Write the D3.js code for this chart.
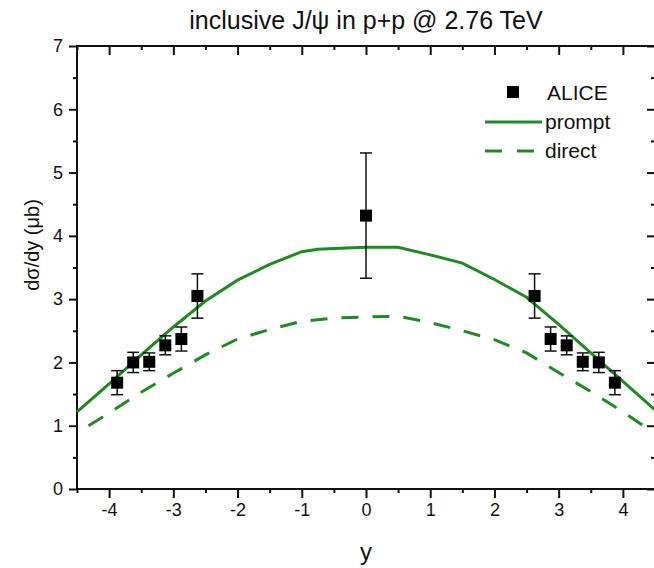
<!DOCTYPE html>
<html>
<head>
<meta charset="utf-8">
<script src="https://cdn.jsdelivr.net/npm/d3@7"></script>
<style>
    body { margin: 0; background: #fff; }
    svg { display: block; font-family: "Liberation Sans", Arial, sans-serif; }
</style>
</head>
<body>
<div id="chart"></div>
<script>
// ---------------------------------------------------------------------------
// Data
// ---------------------------------------------------------------------------

// ALICE inclusive J/psi points
const aliceY   = [-3.875, -3.625, -3.375, -3.125, -2.875, -2.625, 0, 2.625, 2.875, 3.125, 3.375, 3.625, 3.875];
const aliceVal = [1.68, 2.0, 2.01, 2.27, 2.37, 3.05, 4.32, 3.05, 2.37, 2.27, 2.01, 2.0, 1.68];
const aliceErr = [0.19, 0.16, 0.14, 0.15, 0.19, 0.35, 0.99, 0.35, 0.19, 0.15, 0.14, 0.16, 0.19];

// model curves
const promptY   = [-4.5, -4, -3.5, -3, -2.5, -2, -1.5, -1, -0.75, -0.5, 0, 0.5, 1, 1.5, 2, 2.5, 3, 3.5, 4, 4.5];
const promptVal = [1.22, 1.66, 2.12, 2.56, 2.97, 3.30, 3.55, 3.75, 3.79, 3.80, 3.82, 3.82, 3.70, 3.57, 3.31, 3.03, 2.60, 2.15, 1.70, 1.25];

const directY   = [-4.32, -4, -3.5, -3, -2.5, -2, -1.5, -1, -0.5, 0, 0.5, 1, 1.5, 2, 2.5, 3, 3.5, 4, 4.32];
const directVal = [1.0, 1.2, 1.53, 1.83, 2.12, 2.37, 2.52, 2.65, 2.70, 2.72, 2.73, 2.63, 2.50, 2.36, 2.15, 1.84, 1.54, 1.22, 1.0];

const xMajor = [-4, -3, -2, -1, 0, 1, 2, 3, 4];
const xMinor = [-4.5, -3.5, -2.5, -1.5, -0.5, 0.5, 1.5, 2.5, 3.5, 4.5];
const yMajor = [0, 1, 2, 3, 4, 5, 6, 7];
const yMinor = [0.5, 1.5, 2.5, 3.5, 4.5, 5.5, 6.5];

// ---------------------------------------------------------------------------
// Layout
// ---------------------------------------------------------------------------

const width = 654, height = 568;
const plotL = 77, plotR = 655, plotT = 46, plotB = 489;
const green = "#1f8a22";

const svg = d3.select("#chart").append("svg")
    .attr("width", width)
    .attr("height", height);

const x = d3.scaleLinear().domain([-4.5, 4.5]).range([plotL, plotR]);
const y = d3.scaleLinear().domain([0, 7]).range([plotB, plotT]);

// ---------------------------------------------------------------------------
// Axes
// ---------------------------------------------------------------------------

function styleAxis(g) {
    g.select(".domain").remove();
    g.selectAll(".tick line").attr("stroke", "#111").attr("stroke-width", 2);
    g.selectAll(".tick text").attr("fill", "#111").attr("font-size", "18px")
        .attr("font-family", "'Liberation Sans', Arial, sans-serif");
}

const plain = d => String(d);   // hyphen minus, like the original

// bottom
svg.append("g").attr("transform", `translate(0,${plotB})`)
    .call(d3.axisBottom(x).tickValues(xMajor).tickSize(9).tickPadding(5).tickFormat(plain))
    .call(styleAxis);
svg.append("g").attr("transform", `translate(0,${plotB})`)
    .call(d3.axisBottom(x).tickValues(xMinor).tickSize(4).tickFormat(""))
    .call(styleAxis);

// top (ticks inward)
svg.append("g").attr("transform", `translate(0,${plotT})`)
    .call(d3.axisBottom(x).tickValues(xMajor).tickSize(9).tickFormat(""))
    .call(styleAxis);
svg.append("g").attr("transform", `translate(0,${plotT})`)
    .call(d3.axisBottom(x).tickValues(xMinor).tickSize(4).tickFormat(""))
    .call(styleAxis);

// left
svg.append("g").attr("transform", `translate(${plotL},0)`)
    .call(d3.axisLeft(y).tickValues(yMajor).tickSize(8).tickPadding(6).tickFormat(plain))
    .call(styleAxis);
svg.append("g").attr("transform", `translate(${plotL},0)`)
    .call(d3.axisLeft(y).tickValues(yMinor).tickSize(4).tickFormat(""))
    .call(styleAxis);

// right (ticks inward)
svg.append("g").attr("transform", `translate(${plotR},0)`)
    .call(d3.axisLeft(y).tickValues(yMajor).tickSize(8).tickFormat(""))
    .call(styleAxis);
svg.append("g").attr("transform", `translate(${plotR},0)`)
    .call(d3.axisLeft(y).tickValues(yMinor).tickSize(4).tickFormat(""))
    .call(styleAxis);

// frame
svg.append("rect")
    .attr("x", plotL).attr("y", plotT)
    .attr("width", plotR - plotL).attr("height", plotB - plotT)
    .attr("fill", "none").attr("stroke", "#111").attr("stroke-width", 2);

// ---------------------------------------------------------------------------
// Curves
// ---------------------------------------------------------------------------

const line = d3.line().x(d => x(d[0])).y(d => y(d[1])).curve(d3.curveLinear);

svg.append("path")
    .datum(d3.zip(promptY, promptVal))
    .attr("d", line)
    .attr("fill", "none").attr("stroke", green).attr("stroke-width", 3);

svg.append("path")
    .datum(d3.zip(directY, directVal))
    .attr("d", line)
    .attr("fill", "none").attr("stroke", green).attr("stroke-width", 3)
    .attr("stroke-dasharray", "17,14");

// ---------------------------------------------------------------------------
// ALICE points with error bars
// ---------------------------------------------------------------------------

const pts = aliceY.map((v, i) => ({ x: v, val: aliceVal[i], err: aliceErr[i] }));
const cap = 6, ms = 12;

const pg = svg.append("g").attr("stroke", "#111").attr("stroke-width", 1.5);
pg.selectAll("line.bar").data(pts).join("line").attr("class", "bar")
    .attr("x1", d => x(d.x)).attr("x2", d => x(d.x))
    .attr("y1", d => y(d.val - d.err)).attr("y2", d => y(d.val + d.err));
pg.selectAll("line.capt").data(pts).join("line").attr("class", "capt")
    .attr("x1", d => x(d.x) - cap).attr("x2", d => x(d.x) + cap)
    .attr("y1", d => y(d.val + d.err)).attr("y2", d => y(d.val + d.err));
pg.selectAll("line.capb").data(pts).join("line").attr("class", "capb")
    .attr("x1", d => x(d.x) - cap).attr("x2", d => x(d.x) + cap)
    .attr("y1", d => y(d.val - d.err)).attr("y2", d => y(d.val - d.err));

svg.selectAll("rect.pt").data(pts).join("rect").attr("class", "pt")
    .attr("x", d => x(d.x) - ms / 2).attr("y", d => y(d.val) - ms / 2)
    .attr("width", ms).attr("height", ms)
    .attr("fill", "#000");

// ---------------------------------------------------------------------------
// Legend
// ---------------------------------------------------------------------------

const lg = svg.append("g").attr("font-size", "21px").attr("fill", "#111");
lg.append("rect").attr("x", 507).attr("y", 86).attr("width", 12).attr("height", 12).attr("fill", "#000");
lg.append("text").attr("x", 547).attr("y", 100).text("ALICE");
lg.append("line").attr("x1", 485).attr("x2", 542).attr("y1", 122).attr("y2", 122)
    .attr("stroke", green).attr("stroke-width", 3);
lg.append("text").attr("x", 545).attr("y", 129).text("prompt");
lg.append("line").attr("x1", 485).attr("x2", 534).attr("y1", 151).attr("y2", 151)
    .attr("stroke", green).attr("stroke-width", 3).attr("stroke-dasharray", "17,15");
lg.append("text").attr("x", 545).attr("y", 158).text("direct");

// ---------------------------------------------------------------------------
// Titles
// ---------------------------------------------------------------------------

svg.append("text")
    .attr("x", (plotL + plotR) / 2).attr("y", 29)
    .attr("text-anchor", "middle").attr("font-size", "25px").attr("fill", "#111")
    .text("inclusive J/ψ in p+p @ 2.76 TeV");

svg.append("text")
    .attr("x", (plotL + plotR) / 2).attr("y", 560)
    .attr("text-anchor", "middle").attr("font-size", "24px").attr("fill", "#111")
    .text("y");

svg.append("text")
    .attr("transform", "translate(39,245) rotate(-90)")
    .attr("text-anchor", "middle").attr("font-size", "20px").attr("fill", "#111")
    .text("dσ/dy (μb)");
</script>
</body>
</html>
